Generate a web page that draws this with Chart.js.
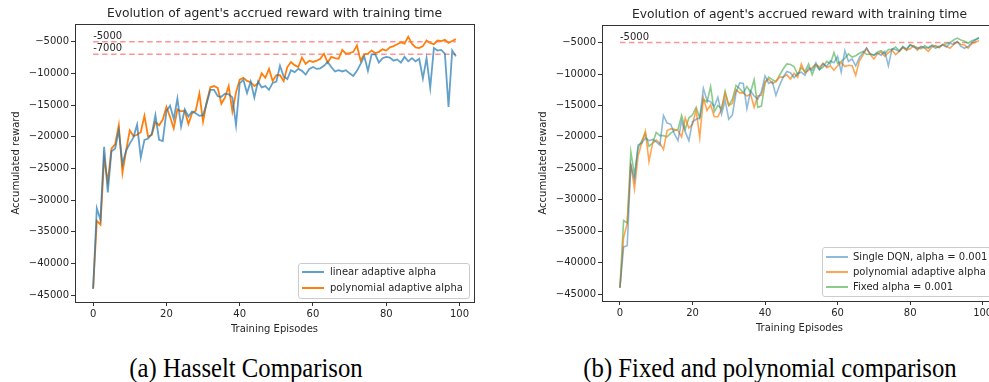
<!DOCTYPE html>
<html><head><meta charset="utf-8">
<script src="https://cdn.jsdelivr.net/npm/chart.js@4/dist/chart.umd.min.js"></script>
<style>
html,body{margin:0;padding:0;background:#fff;overflow:hidden;width:989px;height:382px;}
#wrap{position:relative;width:989px;height:382px;overflow:hidden;}
canvas{position:absolute;}
.legend{position:absolute;background:rgba(255,255,255,0.8);border:1px solid #cccccc;border-radius:3px;font-family:"DejaVu Sans";font-size:10px;color:#262626;box-sizing:border-box;overflow:visible;}
.legend .sw{position:absolute;width:22px;height:0;}
.legend .tx{position:absolute;white-space:nowrap;line-height:12px;}
.cap{position:absolute;font-family:"Liberation Serif";font-size:27px;color:#000;white-space:nowrap;transform:translateX(-50%) scaleX(0.915);line-height:30px;}
</style></head>
<body>
<div id="wrap">
<canvas id="c1" width="490" height="345" style="left:0;top:0;width:490px;height:345px"></canvas>
<canvas id="c2" width="510" height="344" style="left:500px;top:0;width:510px;height:344px"></canvas>
<div class="cap" style="left:246px;top:353px">(a) Hasselt Comparison</div>
<div class="cap" style="left:770px;top:353px">(b) Fixed and polynomial comparison</div>
</div>
<script>
// ---------- data ----------
const episodes = [0,1,2,3,4,5,6,7,8,9,10,11,12,13,14,15,16,17,18,19,20,21,22,23,24,25,26,27,28,29,30,31,32,33,34,35,36,37,38,39,40,41,42,43,44,45,46,47,48,49,50,51,52,53,54,55,56,57,58,59,60,61,62,63,64,65,66,67,68,69,70,71,72,73,74,75,76,77,78,79,80,81,82,83,84,85,86,87,88,89,90,91,92,93,94,95,96,97,98,99];
const xTicks = [0,20,40,60,80,100];
const yTicks = [-45000,-40000,-35000,-30000,-25000,-20000,-15000,-10000,-5000];

// (a) Hasselt comparison
const linearAdaptive = [-44000,-31300,-33100,-21600,-28800,-22300,-21900,-19000,-24300,-22200,
 -21100,-20100,-18100,-23300,-20500,-20300,-19600,-16600,-20500,-20700,
 -16000,-15100,-17200,-14000,-18400,-15700,-16800,-16000,-16300,-16700,
 -16600,-14700,-12600,-12600,-13600,-13700,-13200,-13300,-13800,-18200,
 -11600,-11000,-13100,-11300,-13800,-11300,-12200,-12000,-12600,-11500,
 -11300,-8800,-10500,-10900,-9500,-9800,-9300,-9600,-10200,-9300,
 -9000,-9300,-9200,-8800,-8200,-9000,-9700,-9500,-9700,-9500,
 -10000,-10400,-9600,-8500,-7300,-9600,-7000,-7000,-8300,-7600,
 -7400,-7500,-8000,-7800,-8300,-7400,-8100,-7600,-8100,-7700,
 -10800,-7600,-12300,-6000,-6400,-6300,-6900,-15300,-6400,-7300];
const polyAdaptiveA = [-44000,-33300,-33900,-23400,-27200,-21900,-21200,-18200,-25700,-22200,
 -19000,-19900,-19700,-19300,-16700,-20000,-19700,-17700,-18200,-17300,
 -15300,-16900,-18700,-15700,-16000,-15900,-18000,-16300,-15900,-13200,
 -17600,-14500,-12200,-12000,-12300,-14800,-13800,-12000,-16000,-13000,
 -11000,-10700,-11200,-11400,-12000,-11600,-10000,-10700,-9300,-11200,
 -10300,-10300,-11200,-9000,-8200,-8700,-9000,-7500,-8500,-8000,
 -8200,-8000,-7700,-6900,-8300,-7400,-7600,-7700,-6300,-6900,
 -6800,-6600,-5600,-8000,-7000,-6900,-6400,-6800,-6600,-6200,
 -6400,-5900,-5700,-5400,-5100,-5300,-4200,-5300,-5900,-6000,
 -5700,-4800,-5200,-5400,-4800,-4900,-4700,-5200,-4900,-4600];
const thresholdsA = [-5000,-7000];

// (b) Fixed and polynomial comparison
const singleDQN = [-44000,-37500,-37300,-24500,-26800,-21300,-21000,-20200,-20600,-20400,
 -20800,-21300,-16600,-17800,-18000,-19500,-20600,-17500,-19200,-20600,
 -17600,-17200,-17000,-12300,-14200,-14400,-15200,-13700,-16400,-14200,
 -17200,-16500,-13000,-11400,-11500,-15500,-12700,-13500,-14000,-12800,
 -10300,-11500,-11200,-13400,-11800,-10500,-9600,-9800,-10600,-9900,
 -9700,-10200,-9000,-9400,-8200,-9300,-8400,-8800,-7900,-8200,
 -7200,-9700,-6300,-8000,-7600,-8700,-7400,-6600,-5900,-6800,
 -7000,-6700,-7000,-6400,-8700,-6000,-6100,-6400,-5700,-6000,
 -5400,-5700,-6000,-5600,-5800,-5900,-5500,-5900,-5600,-5400,
 -5700,-5100,-5300,-4800,-5600,-5900,-5600,-5000,-4600,-4300];
const polyAdaptiveB = [-44000,-36000,-33800,-24200,-28300,-23000,-21000,-19100,-23900,-21000,
 -20500,-21000,-22000,-19000,-18700,-18800,-19000,-20000,-17000,-18600,
 -18000,-15700,-20100,-13800,-15800,-14900,-16800,-16800,-15600,-13100,
 -15000,-14700,-12500,-13000,-13000,-13500,-13200,-15300,-13500,-13400,
 -11200,-10800,-11500,-11200,-10500,-10500,-10100,-10800,-9900,-10500,
 -8400,-9800,-9400,-9000,-8500,-8900,-8300,-9000,-8700,-9400,
 -8700,-8200,-8800,-8600,-8700,-10200,-7900,-7000,-5900,-6900,
 -7600,-6800,-6500,-7200,-6600,-6200,-6900,-6400,-5800,-6200,
 -6000,-5500,-6200,-5700,-5900,-6400,-5700,-5500,-5800,-5300,
 -5600,-5900,-5300,-4900,-5300,-5400,-5900,-5200,-4900,-4700];
const fixedAlpha = [-44000,-33300,-33700,-22400,-26000,-21800,-20600,-19500,-21500,-21000,
 -19300,-19800,-19800,-20000,-19400,-19000,-18800,-16600,-18800,-17000,
 -16500,-15300,-17000,-14000,-14500,-12000,-16000,-15000,-15500,-12700,
 -15000,-14000,-11800,-12300,-13000,-12000,-12900,-10900,-15300,-15100,
 -11500,-10500,-10900,-11200,-10200,-9200,-8400,-8500,-8800,-10100,
 -9000,-9600,-8400,-10100,-8600,-9300,-8900,-8000,-8400,-6600,
 -8300,-8000,-7500,-6800,-7300,-7100,-6700,-6400,-6900,-6800,
 -7000,-6500,-6300,-6800,-6100,-6100,-5700,-6300,-5600,-6200,
 -5300,-5600,-5800,-6000,-5500,-5800,-5400,-5600,-5800,-5300,
 -5200,-5000,-4600,-4300,-4600,-4800,-5100,-4700,-4500,-4200];
const thresholdsB = [-5000];

const TITLE = "Evolution of agent's accrued reward with training time";
const XLABEL = 'Training Episodes';
const YLABEL = 'Accumulated reward';

// ---------- helpers ----------
const FONT = 'DejaVu Sans';
const TXT = '#262626';
function pts(vals){ return episodes.map((e,i)=>({x:e,y:vals[i]})); }
function series(label, vals, color, width){
  return {label, data: pts(vals), borderColor: color, backgroundColor: color, borderWidth: width,
    pointRadius: 0, tension: 0, fill: false, isMain: true};
}
function thresholdSet(t){
  return {label: 'thr'+t, data: [{x:episodes[0],y:t},{x:episodes[episodes.length-1],y:t}],
    borderColor: 'rgba(255,60,60,0.55)', borderWidth: 1.5, borderDash: [5.5,3.5],
    pointRadius: 0, tension: 0, fill: false, isMain: false, thrValue: t};
}
const framePlugin = {
  id: 'frame',
  afterDatasetsDraw(chart){
    const a = chart.chartArea, ctx = chart.ctx;
    ctx.save(); ctx.strokeStyle = '#333'; ctx.lineWidth = 1;
    ctx.strokeRect(Math.round(a.left)+0.5, Math.round(a.top)+0.5, Math.round(a.right-a.left), Math.round(a.bottom-a.top));
    ctx.restore();
  }
};
const thrLabelPlugin = {
  id: 'thrLabels',
  afterDatasetsDraw(chart){
    const ctx = chart.ctx, xs = chart.scales.x, ys = chart.scales.y;
    ctx.save(); ctx.fillStyle = TXT; ctx.font = '10px "' + FONT + '"';
    ctx.textAlign = 'left'; ctx.textBaseline = 'alphabetic';
    chart.data.datasets.forEach(ds => {
      if (ds.thrValue === undefined) return;
      ctx.fillText(String(ds.thrValue), xs.getPixelForValue(episodes[0]), ys.getPixelForValue(ds.thrValue) - 3);
    });
    ctx.restore();
  }
};
function makeChart(id, datasets, g){
  return new Chart(document.getElementById(id), {
    type: 'line',
    data: { datasets },
    plugins: [framePlugin, thrLabelPlugin],
    options: {
      responsive: false, animation: false, devicePixelRatio: 1,
      layout: { padding: { left: 0, right: g.padRight, top: 0, bottom: 0 } },
      plugins: {
        legend: { display: false }, tooltip: { enabled: false },
        title: { display: true, fullSize: false, text: TITLE, color: TXT, font: { family: FONT, size: 12.3, weight: 'normal' },
                 padding: { top: g.titleTop, bottom: g.titleBottom } }
      },
      scales: {
        x: { type: 'linear', min: -4.95, max: 103.95,
             afterBuildTicks: s => { s.ticks = xTicks.map(v => ({ value: v })); },
             afterFit: s => { s.height = 43; },
             ticks: { color: TXT, font: { family: FONT, size: 10 }, padding: 2, maxRotation: 0, autoSkip: false,
                      callback: v => String(v) },
             grid: { display: true, drawOnChartArea: false, drawTicks: true, tickLength: 4, tickColor: '#333', color: '#333' },
             border: { display: false },
             title: { display: true, text: XLABEL, color: TXT, font: { family: FONT, size: 10 }, padding: { top: 0, bottom: 10 } } },
        y: { type: 'linear', min: -46100, max: -2200,
             afterBuildTicks: s => { s.ticks = yTicks.map(v => ({ value: v })); },
             afterFit: s => { s.width = g.yWidth; },
             ticks: { color: TXT, font: { family: FONT, size: 10 }, padding: 2, autoSkip: false,
                      callback: v => (v < 0 ? '\u2212' + Math.abs(v) : String(v)) },
             grid: { display: true, drawOnChartArea: false, drawTicks: true, tickLength: 4, tickColor: '#333', color: '#333' },
             border: { display: false },
             title: { display: true, text: YLABEL, color: TXT, font: { family: FONT, size: 10 }, padding: { top: g.yTitlePad, bottom: 0 } } }
      }
    }
  });
}
function buildLegend(datasets, box){
  const lg = document.createElement('div');
  lg.className = 'legend';
  Object.assign(lg.style, { left: box.left+'px', top: box.top+'px', width: box.width+'px', height: box.height+'px' });
  datasets.filter(d => d.isMain).forEach((d, i) => {
    const cy = box.firstRow + i * box.rowStep;
    const sw = document.createElement('div'); sw.className = 'sw';
    Object.assign(sw.style, { left: '3px', top: (cy - 1) + 'px', borderTop: '2px solid ' + d.borderColor });
    const tx = document.createElement('div'); tx.className = 'tx';
    Object.assign(tx.style, { left: box.textLeft + 'px', top: (cy - 6.5) + 'px' });
    tx.textContent = d.label;
    lg.appendChild(sw); lg.appendChild(tx);
  });
  document.getElementById('wrap').appendChild(lg);
}

// ---------- charts ----------
const dsA = [
  series('linear adaptive alpha', linearAdaptive, 'rgba(31,119,180,0.7)', 1.8),
  series('polynomial adaptive alpha', polyAdaptiveA, 'rgba(255,127,14,1)', 1.8),
  ...thresholdsA.map(thresholdSet)
];
const dsB = [
  series('Single DQN, alpha = 0.001', singleDQN, 'rgba(31,119,180,0.5)', 1.6),
  series('polynomial adaptive alpha', polyAdaptiveB, 'rgba(255,127,14,0.7)', 1.6),
  series('Fixed alpha = 0.001', fixedAlpha, 'rgba(44,160,44,0.55)', 1.6),
  ...thresholdsB.map(thresholdSet)
];
makeChart('c1', dsA, { padRight: 16, titleTop: 6, titleBottom: 3.2, yWidth: 75, yTitlePad: 10 });
makeChart('c2', dsB, { padRight: 13, titleTop: 7, titleBottom: 3.2, yWidth: 102, yTitlePad: 37 });
buildLegend(dsA, { left: 298, top: 263, width: 172, height: 36, firstRow: 8, rowStep: 16, textLeft: 31 });
buildLegend(dsB, { left: 822, top: 247, width: 200, height: 50, firstRow: 9, rowStep: 15, textLeft: 30 });
</script>
</body></html>
